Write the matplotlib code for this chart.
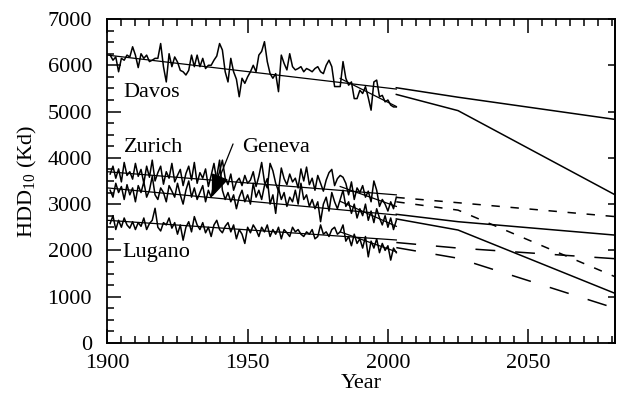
import numpy as np
import matplotlib
matplotlib.use('Agg')
import matplotlib.pyplot as plt
from matplotlib.ticker import MultipleLocator

plt.rcParams['font.family'] = ['Liberation Serif', 'DejaVu Serif']
plt.rcParams['mathtext.fontset'] = 'custom'
plt.rcParams['mathtext.rm'] = 'Liberation Serif'
plt.rcParams['font.size'] = 16

years = np.arange(1901, 2004)

davos = [6220, 6110, 6180, 5860, 6150, 6110, 6220, 6180, 6400, 6220,
         5950, 6250, 6150, 6220, 6080, 6110, 6150, 6150, 6470, 5970,
         5640, 6250, 5970, 6180, 6070, 5890, 5860, 5790, 5890, 6220,
         5970, 6220, 5970, 6150, 5930, 6000, 6000, 6110, 6200, 6470,
         6330, 5860, 5640, 6150, 5860, 5700, 5320, 5720, 5610, 5750,
         5860, 6000, 5860, 6220, 6300, 6510, 6080, 5820, 5720, 5820,
         5430, 6220, 6040, 5900, 6250, 5970, 5900, 5930, 5970, 5860,
         5930, 5900, 5860, 5930, 5970, 5860, 5820, 6000, 6110, 5970,
         5540, 5540, 5540, 6080, 5720, 5570, 5640, 5280, 5280, 5460,
         5390, 5540, 5300, 5030, 5640, 5680, 5320, 5350, 5210, 5250,
         5140, 5100, 5100]

zurich = [3650, 3820, 3560, 3760, 3480, 3900, 3620, 3700, 3540, 3880,
          3600, 3750, 3450, 3820, 3580, 3950, 3500, 3680, 3820, 3430,
          3700, 3560, 3880, 3480, 3620, 3750, 3400, 3660, 3820, 3520,
          3900, 3450, 3680, 3560, 3760, 3380, 3620, 3880, 3500, 3700,
          3950, 3560, 3420, 3650, 3300, 3480, 3560, 3400, 3620, 3450,
          3520, 3700, 3380, 3600, 3900, 3480, 3350, 3880, 3720, 3450,
          3280, 3780, 3550, 3420, 3650, 3480, 3560, 3350, 3760, 3500,
          3800, 3420, 3560, 3300, 3620, 3450, 3280, 3520, 3680, 3750,
          3400, 3550, 3620, 3580, 3450, 3200, 3480, 3100, 3350, 3250,
          3400, 3150, 3280, 3050, 3500, 3300, 2950, 3100, 3000, 2850,
          3050, 2900, 3150]

geneva = [3300, 3150, 3450, 3250, 3380, 3100, 3420, 3200, 3350, 3050,
          3400, 3250, 3480, 3150, 3300, 3600, 3200, 3100, 3350, 3250,
          3050, 3400, 3280, 3150, 3450, 3200, 3000, 3300, 3500, 3150,
          3350, 3100, 3250, 3400, 3050, 3300, 3150, 3450, 3600, 3950,
          3300, 3100, 3250, 3050, 3200, 2900, 3150, 3300, 3050, 3200,
          3000, 3450, 3150, 3300, 3100, 3400, 3550, 3000, 3200, 2800,
          3350, 3100, 3250, 2950, 3150, 3050, 3300, 3000, 3450, 3100,
          3200, 2950, 3100, 2900, 3050, 2620, 3000, 3150, 2850, 3250,
          3050, 2900, 3100, 3300, 2950, 3050, 2800, 3000, 2700, 2900,
          2750, 3000, 2650, 2850, 2600, 2900, 2700, 2550, 2750, 2500,
          2700, 2450, 2650]

lugano = [2580, 2750, 2450, 2650, 2500, 2700, 2550, 2480, 2620, 2450,
          2600, 2520, 2700, 2450, 2580, 2650, 2910, 2500, 2420, 2600,
          2550, 2700, 2480, 2600, 2350, 2550, 2220, 2500, 2620, 2400,
          2730, 2550, 2450, 2600, 2380, 2500, 2300, 2550, 2650, 2450,
          2380, 2520, 2600, 2400, 2550, 2250, 2450, 2350, 2150, 2500,
          2380, 2550, 2450, 2300, 2500, 2400, 2550, 2300, 2450, 2350,
          2500, 2250, 2450, 2380, 2300, 2500, 2400, 2450, 2350, 2300,
          2400, 2350, 2450, 2250, 2300, 2550, 2350, 2400, 2300, 2450,
          2500, 2350, 2400, 2550, 2200, 2300, 2100, 2350, 2150, 2250,
          2050, 2300, 1860, 2200, 2050, 2250, 1950, 2150, 2000, 2100,
          1790, 2050, 1950]

# linear trends: whole period and recent period
trend_years = [1900, 2003]
recent_years = [1983, 2003]
trend_long = {'davos': [6220, 5486], 'zurich': [3700, 3200],
              'geneva': [3350, 2765], 'lugano': [2650, 2225]}
trend_recent = {'davos': [5716, 5110], 'zurich': [3380, 2950],
                'geneva': [3060, 2520], 'lugano': [2400, 1970]}

# scenario projections (two per station)
proj_years = [2003, 2025, 2081]
proj = {'davos': ([5515, 5310, 4830], [5370, 5020, 3200]),
        'zurich': ([3145, 3030, 2730], [3050, 2870, 1430]),
        'geneva': ([2780, 2620, 2330], [2680, 2440, 1070]),
        'lugano': ([2170, 2050, 1820], [2060, 1830, 750])}
proj_dash = {'davos': None, 'zurich': (5.5, 7), 'geneva': None, 'lugano': (13, 13)}

series = {'davos': davos, 'zurich': zurich, 'geneva': geneva, 'lugano': lugano}

fig = plt.figure(figsize=(6.17, 3.96), dpi=100)
ax = fig.add_axes([0.174, 0.134, 0.823, 0.818])

for k, v in series.items():
    ax.plot(years, v, color='black', lw=1.1)
    ax.plot(trend_years, trend_long[k], color='black', lw=0.9)
    ax.plot(recent_years, trend_recent[k], color='black', lw=0.9)
    for p in proj[k]:
        line, = ax.plot(proj_years, p, color='black', lw=1.1)
        if proj_dash[k] is not None:
            line.set_dashes(proj_dash[k])

ax.text(1905.8, 5420, 'Davos', va='center', ha='left')
ax.text(1905.8, 4233, 'Zurich', va='center', ha='left')
ax.text(1948.2, 4233, 'Geneva', va='center', ha='left')
ax.text(1905.5, 1955, 'Lugano', va='center', ha='left')
ax.annotate('', xy=(1937.2, 3150), xytext=(1944.8, 4300),
            arrowprops=dict(arrowstyle='-|>,head_length=0.9,head_width=0.35',
                            color='black', lw=0.9, shrinkA=0, shrinkB=0))

ax.set_xlim(1900, 2081)
ax.set_ylim(0, 7000)
ax.xaxis.set_major_locator(MultipleLocator(50))
ax.xaxis.set_minor_locator(MultipleLocator(5))
ax.yaxis.set_major_locator(MultipleLocator(1000))
ax.yaxis.set_minor_locator(MultipleLocator(250))
ax.tick_params(which='both', direction='in', top=True, right=False, width=1.1)
ax.tick_params(which='major', length=10)
ax.tick_params(which='minor', length=5)
ax.tick_params(axis='x', pad=8)
ax.tick_params(axis='y', pad=11)

sec = ax.secondary_yaxis('right')
sec.yaxis.set_major_locator(MultipleLocator(1000))
sec.tick_params(direction='in', length=5, width=1.1, labelright=False)

for s in list(ax.spines.values()) + [sec.spines['right']]:
    s.set_linewidth(1.3)

ax.set_xlabel('Year', labelpad=1)
ax.set_ylabel(r'HDD$_{10}$ (Kd)', labelpad=6)

fig.savefig('out.png', dpi=100)
